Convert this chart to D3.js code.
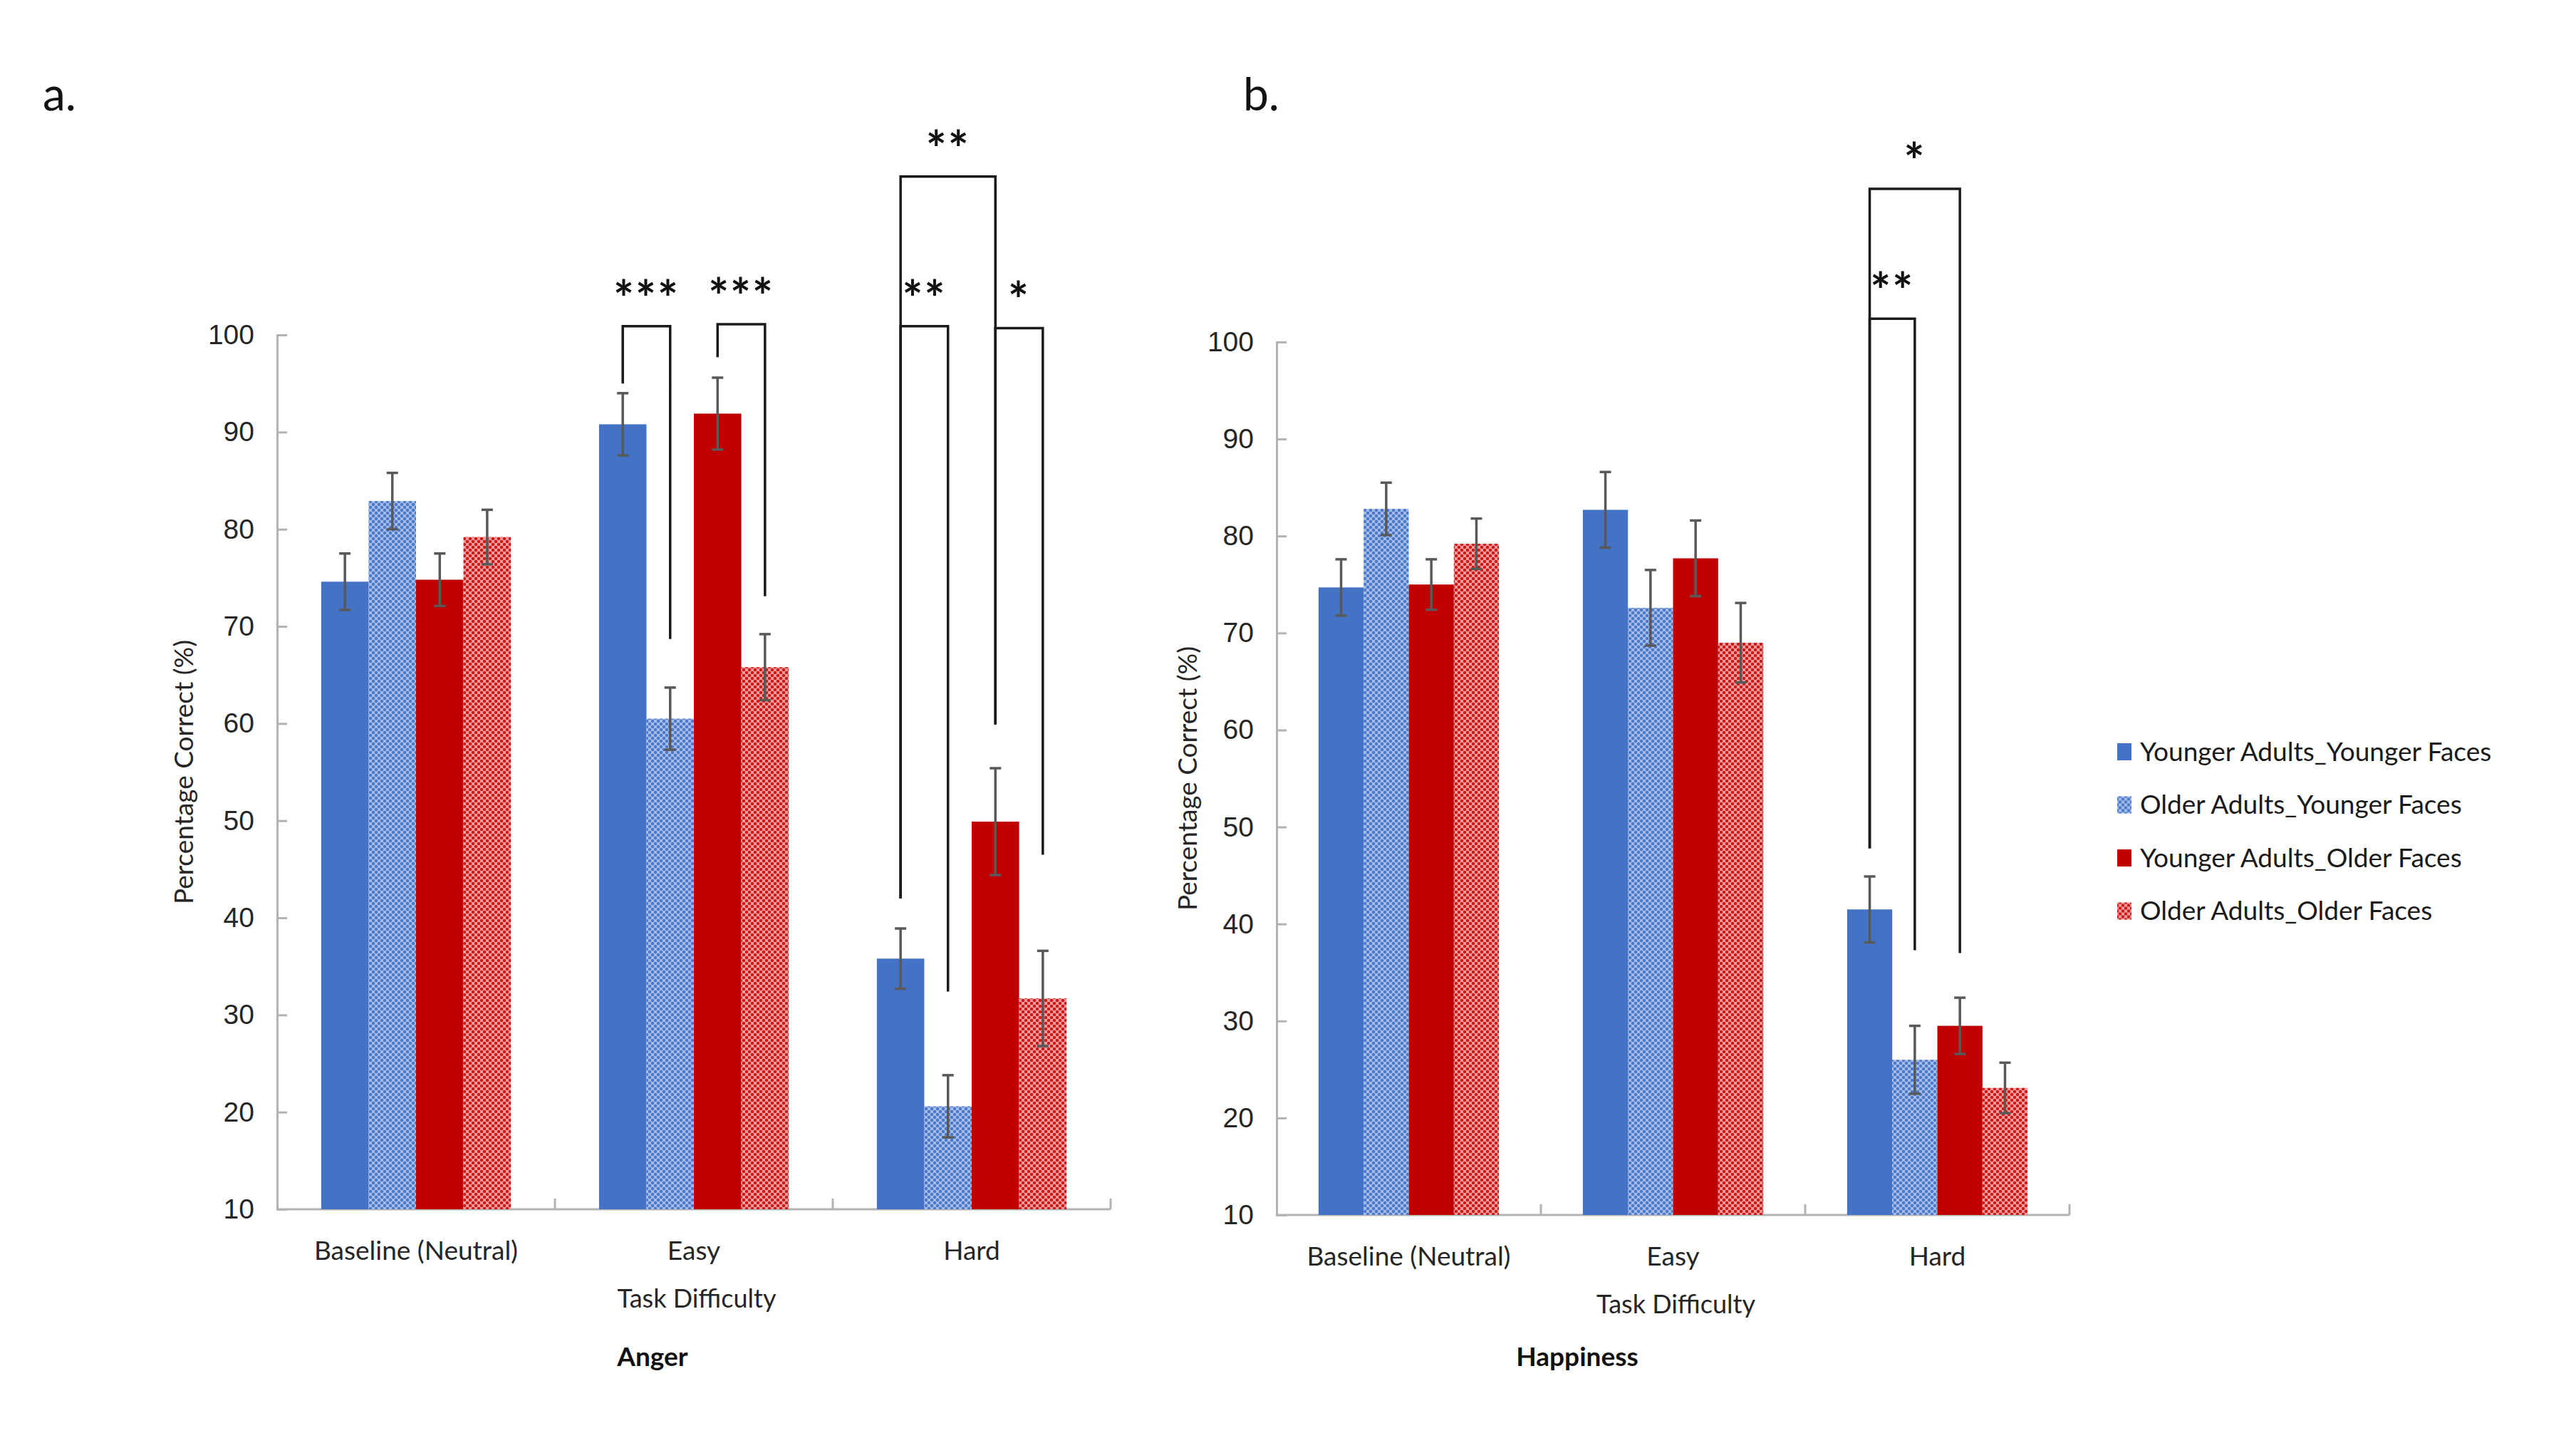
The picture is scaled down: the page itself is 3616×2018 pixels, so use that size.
<!DOCTYPE html>
<html>
<head>
<meta charset="utf-8">
<script src="https://d3js.org/d3.v7.min.js"></script>
<style>
  body { margin: 0; background: #fff; }
  svg { display: block; font-family: Lato, "Open Sans", sans-serif; }
</style>
</head>
<body>
<svg id="chart" width="3616" height="2018"></svg>
<script>
// categories and series
var categories = ["Baseline (Neutral)", "Easy", "Hard"];
var seriesNames = ["Younger Adults_Younger Faces", "Older Adults_Younger Faces",
                   "Younger Adults_Older Faces", "Older Adults_Older Faces"];
var yTicks = [10, 20, 30, 40, 50, 60, 70, 80, 90, 100];

// Anger: mean % correct per series, by category
var angerMeans = [
  [74.6, 90.8, 35.8],
  [82.9, 60.5, 20.6],
  [74.8, 91.9, 49.9],
  [79.2, 65.8, 31.7]
];
var angerErrors = [
  [2.9, 3.2, 3.1],
  [2.9, 3.2, 3.2],
  [2.7, 3.7, 5.5],
  [2.8, 3.4, 4.9]
];

// Happiness
var happyMeans = [
  [74.7, 82.7, 41.5],
  [82.8, 72.6, 26.0],
  [75.0, 77.7, 29.5],
  [79.2, 69.0, 23.1]
];
var happyErrors = [
  [2.9, 3.9, 3.4],
  [2.7, 3.9, 3.5],
  [2.6, 3.9, 2.9],
  [2.6, 4.1, 2.6]
];

// significance brackets: category, from series, to series, top value, leg bottoms (values), label
var angerSig = [
  { cat: "Easy", a: 0, b: 1, top: 100.9, lowA: 95.0, lowB: 68.7, label: "***" },
  { cat: "Easy", a: 2, b: 3, top: 101.1, lowA: 97.7, lowB: 73.1, label: "***" },
  { cat: "Hard", a: 0, b: 1, top: 100.9, lowA: 42.0, lowB: 32.4, label: "**" },
  { cat: "Hard", a: 2, b: 3, top: 100.7, lowA: 59.9, lowB: 46.5, label: "*" },
  { cat: "Hard", a: 0, b: 2, top: 116.3, lowA: 42.0, lowB: 59.9, label: "**" }
];
var happySig = [
  { cat: "Hard", a: 0, b: 2, top: 115.8, lowA: 47.8, lowB: 37.0, label: "*" },
  { cat: "Hard", a: 0, b: 1, top: 102.4, lowA: 47.8, lowB: 37.3, label: "**" }
];

var svg = d3.select("#chart");
var defs = svg.append("defs");

// dotted lattice fills for the "Older Adults" series
function makePattern(id, bg, dot) {
  var p = defs.append("pattern")
      .attr("id", id)
      .attr("patternUnits", "userSpaceOnUse")
      .attr("width", 8)
      .attr("height", 8);
  p.append("rect").attr("width", 8).attr("height", 8).attr("fill", bg);
  [[0, 0], [8, 0], [0, 8], [8, 8], [4, 4]].forEach(function(c) {
    p.append("circle").attr("cx", c[0]).attr("cy", c[1]).attr("r", 2.3).attr("fill", dot);
  });
}
makePattern("patBlue", "#a4c0ee", "#4e77c6");
makePattern("patRed", "#f3a0a0", "#cc1a1a");

var fills = ["#4472c4", "url(#patBlue)", "#c00000", "url(#patRed)"];

function drawPanel(cfg) {
  var g = svg.append("g");

  var x0 = d3.scaleBand()
      .domain(categories)
      .range([cfg.left, cfg.right])
      .padding(0);

  var x1 = d3.scaleBand()
      .domain(d3.range(seriesNames.length))
      .range([0, x0.bandwidth()])
      .paddingInner(0)
      .paddingOuter(0.93);

  var y = d3.scaleLinear()
      .domain([10, 100])
      .range([cfg.bottom, cfg.top]);

  // y axis (ticks point inward like the original)
  var yAxis = g.append("g")
      .attr("transform", "translate(" + cfg.left + ",0)")
      .call(d3.axisRight(y).tickValues(yTicks).tickSize(14).tickFormat(d3.format("d")));
  yAxis.select(".domain").attr("stroke", "#b3b3b3").attr("stroke-width", 3);
  yAxis.selectAll(".tick line").attr("stroke", "#b3b3b3").attr("stroke-width", 3);
  yAxis.selectAll(".tick text")
      .attr("x", -32)
      .attr("text-anchor", "end")
      .attr("font-size", 39)
      .attr("fill", "#262626");

  // x axis baseline with tick marks between categories
  g.append("line")
      .attr("x1", cfg.left).attr("x2", cfg.right)
      .attr("y1", y(10)).attr("y2", y(10))
      .attr("stroke", "#b3b3b3").attr("stroke-width", 3);
  var bounds = categories.slice(1).map(function(c) { return x0(c); }).concat([cfg.right]);
  g.selectAll(".xtick")
      .data(bounds)
      .enter().append("line")
      .attr("x1", function(d) { return d; })
      .attr("x2", function(d) { return d; })
      .attr("y1", y(10))
      .attr("y2", y(10) - 15)
      .attr("stroke", "#b3b3b3").attr("stroke-width", 3);

  g.selectAll(".xlab")
      .data(categories)
      .enter().append("text")
      .attr("x", function(d) { return x0(d) + x0.bandwidth() / 2; })
      .attr("y", cfg.bottom + 71)
      .attr("text-anchor", "middle")
      .attr("font-size", 37)
      .attr("fill", "#262626")
      .text(function(d) { return d; });

  // bars
  var rows = [];
  cfg.means.forEach(function(vals, s) {
    vals.forEach(function(v, c) {
      rows.push({ s: s, cat: categories[c], v: v, e: cfg.errors[s][c] });
    });
  });

  g.selectAll(".bar")
      .data(rows)
      .enter().append("rect")
      .attr("x", function(d) { return x0(d.cat) + x1(d.s); })
      .attr("y", function(d) { return y(d.v); })
      .attr("width", x1.bandwidth())
      .attr("height", function(d) { return y(10) - y(d.v); })
      .attr("fill", function(d) { return fills[d.s]; });

  // error bars
  var eb = g.selectAll(".err")
      .data(rows)
      .enter().append("g")
      .attr("stroke", "#595959")
      .attr("stroke-width", 3.5);
  function cx(d) { return x0(d.cat) + x1(d.s) + x1.bandwidth() / 2; }
  eb.append("line")
      .attr("x1", cx).attr("x2", cx)
      .attr("y1", function(d) { return y(d.v - d.e); })
      .attr("y2", function(d) { return y(d.v + d.e); });
  [1, -1].forEach(function(sign) {
    eb.append("line")
        .attr("x1", function(d) { return cx(d) - 8; })
        .attr("x2", function(d) { return cx(d) + 8; })
        .attr("y1", function(d) { return y(d.v + sign * d.e); })
        .attr("y2", function(d) { return y(d.v + sign * d.e); });
  });

  // significance brackets
  function bx(cat, s) { return x0(cat) + x1(s) + x1.bandwidth() / 2; }
  var sig = g.selectAll(".sig")
      .data(cfg.sig)
      .enter().append("g");
  sig.append("path")
      .attr("fill", "none")
      .attr("stroke", "#1a1a1a")
      .attr("stroke-width", 3.5)
      .attr("d", function(d) {
        var xa = bx(d.cat, d.a), xb = bx(d.cat, d.b);
        return "M" + xa + "," + y(d.lowA) + "V" + y(d.top) + "H" + xb + "V" + y(d.lowB);
      });
  sig.append("text")
      .attr("x", function(d) { return (bx(d.cat, d.a) + bx(d.cat, d.b)) / 2; })
      .attr("y", function(d) { return y(d.top) - 14; })
      .attr("text-anchor", "middle")
      .attr("font-size", 68)
      .attr("font-weight", "bold")
      .attr("letter-spacing", 2)
      .attr("fill", "#111")
      .text(function(d) { return d.label; });

  // axis titles
  g.append("text")
      .attr("transform", "translate(" + cfg.ylabX + "," + ((cfg.top + cfg.bottom) / 2) + ") rotate(-90)")
      .attr("text-anchor", "middle")
      .attr("dy", "0.35em")
      .attr("font-size", 37)
      .attr("fill", "#262626")
      .text("Percentage Correct (%)");

  g.append("text")
      .attr("x", (cfg.left + cfg.right) / 2 + 4)
      .attr("y", cfg.bottom + 138)
      .attr("text-anchor", "middle")
      .attr("font-size", 36)
      .attr("fill", "#262626")
      .text("Task Difficulty");

  g.append("text")
      .attr("x", cfg.titleX)
      .attr("y", 1917)
      .attr("text-anchor", "middle")
      .attr("font-size", 37)
      .attr("font-weight", "bold")
      .attr("fill", "#111")
      .text(cfg.title);

  svg.append("text")
      .attr("x", cfg.letterX)
      .attr("y", 155)
      .attr("font-size", 64)
      .attr("fill", "#111")
      .text(cfg.letter);
}

drawPanel({
  left: 389, right: 1559, top: 470, bottom: 1697,
  means: angerMeans, errors: angerErrors, sig: angerSig,
  ylabX: 258, title: "Anger", titleX: 916, letter: "a.", letterX: 60
});

drawPanel({
  left: 1792, right: 2905, top: 480, bottom: 1705,
  means: happyMeans, errors: happyErrors, sig: happySig,
  ylabX: 1667, title: "Happiness", titleX: 2214, letter: "b.", letterX: 1745
});

// legend
var legend = svg.append("g")
    .attr("transform", "translate(2972,1055)");
var li = legend.selectAll("g")
    .data(seriesNames)
    .enter().append("g")
    .attr("transform", function(d, i) { return "translate(0," + (i * 74.5) + ")"; });
li.append("rect")
    .attr("x", 0).attr("y", -12)
    .attr("width", 20).attr("height", 24)
    .attr("fill", function(d, i) { return fills[i]; });
li.append("text")
    .attr("x", 32)
    .attr("dy", "0.35em")
    .attr("font-size", 37)
    .attr("fill", "#1a1a1a")
    .text(function(d) { return d; });
</script>
</body>
</html>
